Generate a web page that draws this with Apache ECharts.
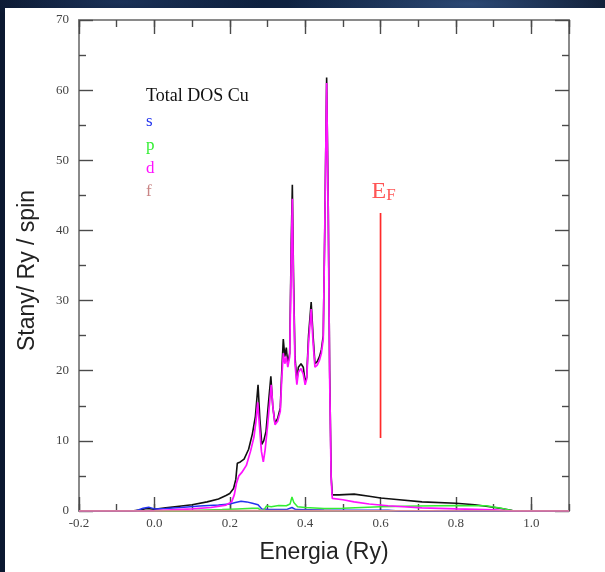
<!DOCTYPE html>
<html>
<head>
<meta charset="utf-8">
<script src="https://cdn.jsdelivr.net/npm/echarts@6/dist/echarts.min.js"></script>
<style>
  html, body { margin: 0; padding: 0; width: 605px; height: 572px; overflow: hidden; }
  body {
    background:
      radial-gradient(ellipse 260px 40px at 470px 4px, rgba(70,110,170,0.55), rgba(0,0,0,0) 70%),
      radial-gradient(ellipse 200px 30px at 120px 2px, rgba(40,70,120,0.5), rgba(0,0,0,0) 70%),
      linear-gradient(90deg, #0b1830 0%, #0f2342 50%, #0a1528 100%);
  }
  #panel { position: absolute; left: 5px; top: 8px; width: 600px; height: 564px; background: #ffffff; }
  #chart { position: absolute; left: 0; top: 0; width: 605px; height: 572px; }
</style>
</head>
<body>
<div id="panel"></div>
<div id="chart"></div>
<script>
// Density of states of Cu: total and s, p, d, f projections (states / Ry / spin)
const totalDos = [
  [-0.2,0],[-0.06,0],[-0.04,0.15],[-0.02,0.35],[0.0,0.25],[0.03,0.45],[0.06,0.65],[0.1,0.9],
  [0.14,1.3],[0.17,1.7],[0.19,2.2],[0.2,2.5],[0.21,3.2],[0.216,4.5],[0.22,6.8],[0.228,7.0],
  [0.238,7.4],[0.25,8.8],[0.26,11],[0.268,13.5],[0.275,18],[0.28,13],[0.285,9.5],[0.29,10],
  [0.296,11.3],[0.302,15],[0.309,19.2],[0.314,15],[0.32,12.5],[0.327,13.2],[0.334,14.7],
  [0.338,20],[0.342,24.5],[0.346,22],[0.35,23.3],[0.354,21],[0.359,22.5],[0.363,38],
  [0.366,46.5],[0.369,34],[0.373,22],[0.378,18.5],[0.382,20.5],[0.389,21],[0.395,20.5],
  [0.4,18.5],[0.404,19],[0.409,25],[0.416,29.8],[0.421,25],[0.426,21],[0.432,21.3],
  [0.438,22],[0.443,23],[0.448,25],[0.452,40],[0.457,61.8],[0.461,45],[0.465,20],[0.469,5],
  [0.472,2.3],[0.49,2.3],[0.53,2.4],[0.57,2.1],[0.6,1.85],[0.65,1.6],[0.71,1.3],[0.8,1.1],
  [0.85,0.9],[0.89,0.6],[0.92,0.35],[0.95,0.05],[1.1,0]
];
const sDos = [
  [-0.2,0],[-0.05,0],[-0.03,0.4],[-0.015,0.55],[0.0,0.3],[0.03,0.35],[0.07,0.5],[0.12,0.7],
  [0.17,0.85],[0.2,1.0],[0.215,1.2],[0.23,1.4],[0.245,1.3],[0.26,1.1],[0.275,0.9],[0.285,0.3],
  [0.3,0.25],[0.35,0.2],[0.365,0.5],[0.375,0.2],[0.45,0.15],[0.55,0.1],[0.62,0.1],[0.65,0],[1.1,0]
];
const pDos = [
  [-0.2,0],[0.08,0],[0.12,0.1],[0.18,0.2],[0.22,0.3],[0.26,0.4],[0.275,0.4],[0.283,0.05],
  [0.29,0.1],[0.297,0.7],[0.31,0.6],[0.33,0.8],[0.35,0.75],[0.36,1.0],[0.365,2.0],[0.37,1.2],
  [0.38,0.6],[0.4,0.5],[0.45,0.35],[0.5,0.4],[0.55,0.5],[0.6,0.6],[0.7,0.7],[0.8,0.8],
  [0.88,0.75],[0.92,0.4],[0.95,0.05],[1.1,0]
];
const dDos = [
  [-0.2,0],[-0.02,0],[0.02,0.1],[0.06,0.2],[0.1,0.3],[0.15,0.5],[0.19,0.85],[0.205,1.3],
  [0.212,2.3],[0.218,4.0],[0.224,5.0],[0.232,5.5],[0.244,6.5],[0.255,8.5],[0.264,10.5],
  [0.27,13],[0.274,15.5],[0.279,12],[0.284,8.5],[0.289,7],[0.294,8.8],[0.3,12],[0.305,15],
  [0.31,18],[0.315,14.5],[0.32,12.3],[0.327,12.8],[0.334,14.2],[0.338,19],[0.342,22.5],
  [0.346,21],[0.35,22],[0.354,20.5],[0.359,22],[0.363,36],[0.366,44.5],[0.369,32],[0.373,21],
  [0.378,18],[0.382,19.8],[0.389,20.3],[0.395,19.5],[0.4,18],[0.404,18.8],[0.409,24],
  [0.416,28.8],[0.421,24],[0.426,20.5],[0.432,20.8],[0.438,21.5],[0.443,22.5],[0.448,24.5],
  [0.452,40],[0.457,61],[0.461,44],[0.465,19],[0.469,4.5],[0.472,1.8],[0.5,1.6],[0.53,1.3],
  [0.57,1.0],[0.62,0.75],[0.71,0.45],[0.8,0.3],[0.9,0.15],[0.95,0],[1.1,0]
];
const fDos = [
  [-0.2,0],[0.0,0.02],[0.2,0.05],[0.4,0.08],[0.47,0.05],[0.7,0.03],[1.0,0.01],[1.1,0]
];
// Fermi level marker
const fermiLevel = [[0.6,10.4],[0.6,42.5]];
const fermiLabelAt = [0.6, 44.5];

const xRange = [-0.2, 1.1];
const yRange = [0, 70];

const axisGrey = '#8a8a8a';
const tickGrey = '#4a4a4a';
const serif = '"Liberation Serif", "DejaVu Serif", serif';
const sans = '"Liberation Sans", Arial, sans-serif';

function xAxisDef(pos, interval, len, withLabels) {
  return {
    type: 'value', position: pos, min: xRange[0], max: xRange[1], interval: interval,
    axisLine: { show: true, onZero: false, lineStyle: { color: axisGrey, width: 2 } },
    axisTick: { show: true, inside: true, length: len, lineStyle: { color: tickGrey, width: 1.4 } },
    axisLabel: {
      show: !!withLabels, showMaxLabel: false, margin: 6,
      fontFamily: serif, fontSize: 13, color: '#444',
      formatter: v => v.toFixed(1)
    },
    splitLine: { show: false },
    name: withLabels ? 'Energia (Ry)' : '',
    nameLocation: 'middle', nameGap: 30,
    nameTextStyle: { fontFamily: sans, fontSize: 23, color: '#222' }
  };
}
function yAxisDef(pos, withLabels) {
  return {
    type: 'value', position: pos, min: yRange[0], max: yRange[1], interval: 10,
    axisLine: { show: true, onZero: false, lineStyle: { color: axisGrey, width: 2 } },
    axisTick: { show: true, inside: true, length: 14, lineStyle: { color: tickGrey, width: 1.4 } },
    minorTick: { show: true, splitNumber: 2, length: 7, lineStyle: { color: tickGrey, width: 1.4 } },
    axisLabel: { show: withLabels, margin: 10, fontFamily: serif, fontSize: 13, color: '#444' },
    splitLine: { show: false },
    name: withLabels ? 'Stany/ Ry / spin' : '',
    nameLocation: 'middle', nameGap: 40,
    nameTextStyle: { fontFamily: sans, fontSize: 23, color: '#222', padding: [0, 10, 0, 0] }
  };
}

function line(name, data, color, width) {
  return {
    name: name, type: 'line', data: data, showSymbol: false, symbol: 'none',
    xAxisIndex: 0, yAxisIndex: 0, animation: false,
    lineStyle: { color: color, width: width }, z: 3
  };
}

const chart = echarts.init(document.getElementById('chart'), null, { renderer: 'canvas' });
chart.setOption({
  animation: false,
  backgroundColor: 'transparent',
  grid: { left: 79, top: 20, right: 36, bottom: 61, containLabel: false },
  xAxis: [
    xAxisDef('bottom', 0.2, 14, true),
    xAxisDef('bottom', 0.1, 7, false),
    xAxisDef('top', 0.2, 14, false),
    xAxisDef('top', 0.1, 7, false)
  ],
  yAxis: [yAxisDef('left', true), yAxisDef('right', false)],
  series: [
    line('Total DOS Cu', totalDos, '#111111', 1.6),
    line('s', sDos, '#2233ee', 1.5),
    line('p', pDos, '#33ee33', 1.5),
    line('d', dDos, '#ff11ff', 1.7),
    line('f', fDos, '#d89090', 1.6),
    line('EF', fermiLevel, '#ff2a2a', 1.7),
    {
      type: 'scatter', data: [fermiLabelAt], symbolSize: 0, silent: true, z: 4,
      label: {
        show: true, position: 'top', distance: 0, offset: [3, 5],
        formatter: '{e|E}{f|F}',
        rich: {
          e: { fontFamily: serif, fontSize: 24, color: '#ff2a2a', verticalAlign: 'top', lineHeight: 24 },
          f: { fontFamily: serif, fontSize: 17, color: '#ff2a2a', verticalAlign: 'bottom', lineHeight: 6 }
        }
      }
    }
  ],
  graphic: [
    { type: 'text', left: 146, top: 87, style: { text: 'Total DOS Cu', fontFamily: serif, fontSize: 18, fill: '#111' } },
    { type: 'text', left: 146, top: 113, style: { text: 's', fontFamily: serif, fontSize: 17, fill: '#2233ee' } },
    { type: 'text', left: 146, top: 137, style: { text: 'p', fontFamily: serif, fontSize: 17, fill: '#33ee33' } },
    { type: 'text', left: 146, top: 160, style: { text: 'd', fontFamily: serif, fontSize: 17, fill: '#ff11ff' } },
    { type: 'text', left: 146, top: 183, style: { text: 'f', fontFamily: serif, fontSize: 17, fill: '#c98585' } }
  ]
});
</script>
</body>
</html>
